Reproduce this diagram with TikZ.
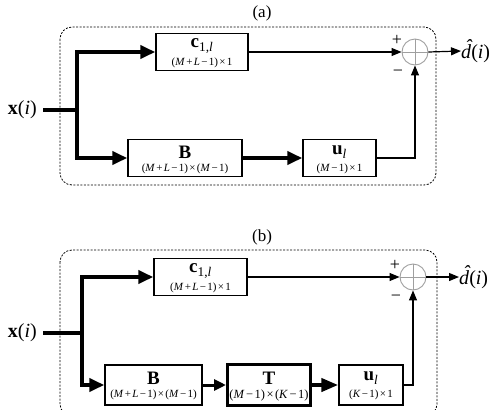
\documentclass[tikz,border=0pt]{standalone}
\usepackage{fontspec}
\setmainfont{Liberation Serif}
\usetikzlibrary{arrows.meta}
\newcommand{\sz}[1]{\fontsize{#1}{#1}\selectfont}
\newcommand{\mop}[1]{\hspace{0.12em}#1\hspace{0.12em}}
\newcommand{\dhat}{\rlap{\hspace{0.2em}\raisebox{0.24em}{\textit{ˆ}}}\textit{d}}
\begin{document}
\begin{tikzpicture}[x=1pt,y=-1pt,
  box/.style={draw, line width=1.4pt, inner sep=0pt, minimum height=37pt},
  tbox/.style={draw, line width=3pt, inner sep=0pt, minimum height=41pt},
  mainlbl/.style={inner sep=0pt, font=\sz{19}},
  dimlbl/.style={inner sep=0pt, font=\sz{11}},
  lbl/.style={inner sep=0pt, font=\sz{20}},
  thickln/.style={line width=4pt},
  bigarrow/.style={line width=4pt, -{Triangle[length=15pt,width=13pt]}},
  medarrow/.style={line width=3pt, -{Triangle[length=12pt,width=11pt]}},
  thinarrow/.style={line width=1.2pt, -{Triangle[length=10pt,width=8pt]}},
  frame/.style={draw, line width=0.8pt, dash pattern=on 2pt off 1.5pt, rounded corners=12pt},
  sumc/.style={circle, draw=gray!75, line width=0.9pt, minimum size=26pt, inner sep=0pt},
  cross/.style={draw=gray!75, line width=0.9pt},
]
\useasboundingbox (0,0) rectangle (499,410);

% ---------------- panel (a) ----------------
\node[inner sep=0pt, font=\sz{17}] (ta) at (262,13) {(a)};
\draw[frame] (60,27) rectangle (436,185);

\node[lbl, anchor=east] (xa) at (37,110) {\textbf{x}(\textit{i})};
\coordinate (ja) at (77,110);

\node[box, minimum width=92pt] (ca) at (202,52) {};
\node[mainlbl] (ca-m) at ([yshift=6pt]ca.center) {\textbf{c}\textsubscript{1,\textit{l}}};
\node[dimlbl] (ca-d) at ([yshift=-10.5pt]ca.center) {(\textit{M}\mop{+}\textit{L}\mop{−}1)\mop{×}1};

\node[box, minimum width=114pt] (Ba) at (185,158) {};
\node[mainlbl] (Ba-m) at ([yshift=6pt]Ba.center) {\textbf{B}};
\node[dimlbl] (Ba-d) at ([yshift=-10.5pt]Ba.center) {(\textit{M}\mop{+}\textit{L}\mop{−}1)\mop{×}(\textit{M}\mop{−}1)};

\node[box, minimum width=73pt] (ua) at (339.5,158) {};
\node[mainlbl] (ua-m) at ([yshift=6pt]ua.center) {\textbf{u}\textsubscript{\textit{l}}};
\node[dimlbl] (ua-d) at ([yshift=-10.5pt]ua.center) {(\textit{M}\mop{−}1)\mop{×}1};

\node[sumc] (sa) at (415,52) {};
\draw[cross] (sa.north) -- (sa.south) (sa.west) -- (sa.east);
\node[inner sep=0pt, font=\sz{18}] (pa) at (397,40) {+};
\node[inner sep=0pt, font=\sz{18}] (ma) at (398,73) {−};
\node[lbl, anchor=west] (da) at (461,51) {\dhat(\textit{i})};

\draw[thickln] ([xshift=6pt]xa.east) -- (ja);
\draw[bigarrow] (ja) |- (ca.west);
\draw[bigarrow] (ja) |- (Ba.west);
\draw[bigarrow] (Ba.east) -- (ua.west);
\draw[thinarrow] (ua.east) -| (sa.south);
\draw[thinarrow] (ca.east) -- (sa.west);
\draw[thinarrow] (sa.east) -- (da.west);

% ---------------- panel (b) ----------------
\node[inner sep=0pt, font=\sz{17}] (tb) at (262,237) {(b)};
\draw[frame] (60,250) rectangle (437,416);

\node[lbl, anchor=east] (xb) at (37,333) {\textbf{x}(\textit{i})};
\coordinate (jb) at (82,333);

\node[box, minimum width=93pt] (cb) at (200.5,277) {};
\node[mainlbl] (cb-m) at ([yshift=6pt]cb.center) {\textbf{c}\textsubscript{1,\textit{l}}};
\node[dimlbl] (cb-d) at ([yshift=-10.5pt]cb.center) {(\textit{M}\mop{+}\textit{L}\mop{−}1)\mop{×}1};

\node[box, minimum width=97pt, minimum height=40pt] (Bb) at (153.5,385) {};
\node[mainlbl] (Bb-m) at ([yshift=7pt]Bb.center) {\textbf{B}};
\node[dimlbl] (Bb-d) at ([yshift=-10pt]Bb.center) {(\textit{M}\mop{+}\textit{L}\mop{−}1)\mop{×}(\textit{M}\mop{−}1)};

\node[tbox, minimum width=83pt] (Tb) at (269,385) {};
\node[mainlbl] (Tb-m) at ([yshift=7pt]Tb.center) {\textbf{T}};
\node[dimlbl, font=\sz{12.5}] (Tb-d) at ([yshift=-10pt]Tb.center) {(\textit{M}\mop{−}1)\mop{×}(\textit{K}\mop{−}1)};

\node[box, minimum width=64pt, minimum height=40pt] (ub) at (371,385) {};
\node[mainlbl] (ub-m) at ([yshift=7pt]ub.center) {\textbf{u}\textsubscript{\textit{l}}};
\node[dimlbl] (ub-d) at ([yshift=-10pt]ub.center) {(\textit{K}\mop{−}1)\mop{×}1};

\node[sumc] (sb) at (413,277) {};
\draw[cross] (sb.north) -- (sb.south) (sb.west) -- (sb.east);
\node[inner sep=0pt, font=\sz{18}] (pb) at (395,265) {+};
\node[inner sep=0pt, font=\sz{18}] (mb) at (396,298) {−};
\node[lbl, anchor=west] (db) at (459,277) {\dhat(\textit{i})};

\draw[thickln] ([xshift=6pt]xb.east) -- (jb);
\draw[bigarrow] (jb) |- (cb.west);
\draw[bigarrow] (jb) |- (Bb.west);
\draw[medarrow] (Bb.east) -- (Tb.west);
\draw[-{Triangle[length=17pt,width=13pt]}, line width=4pt] (Tb.east) -- (ub.west);
\draw[thinarrow] (ub.east) -| (sb.south);
\draw[thinarrow] (cb.east) -- (sb.west);
\draw[thinarrow] (sb.east) -- (db.west);
\end{tikzpicture}
\end{document}
